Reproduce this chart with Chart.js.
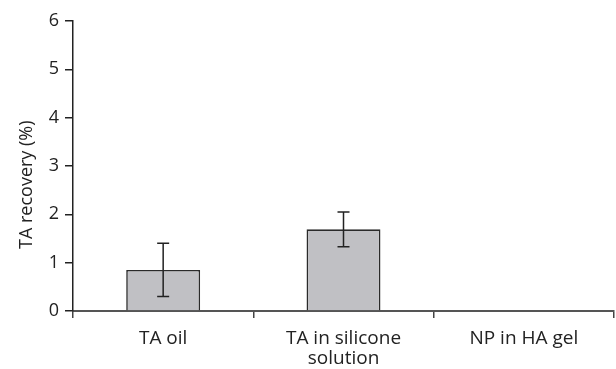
<!DOCTYPE html>
<html>
<head>
<meta charset="utf-8">
<script src="https://cdn.jsdelivr.net/npm/chart.js@4/dist/chart.umd.min.js"></script>
<style>
  html, body { margin: 0; padding: 0; background: #fff; }
  #wrap { width: 616px; height: 369px; }
</style>
</head>
<body>
<div id="wrap"><canvas id="rel1"></canvas></div>
<script>
var categories = [['TA oil'], ['TA in silicone', 'solution'], ['NP in HA gel']];
var recovery = [0.85, 1.69, 0];
var recovery_err = [0.55, 0.36, 0];
var y_ticks = [0, 1, 2, 3, 4, 5, 6];

var errorBars = {
	id: 'errorBars',
	afterDatasetsDraw: function(chart) {
		var ctx = chart.ctx;
		var meta = chart.getDatasetMeta(0);
		var y = chart.scales.y;
		ctx.save();
		ctx.strokeStyle = '#222';
		ctx.lineWidth = 1.5;
		meta.data.forEach(function(bar, i) {
			if (!recovery_err[i]) return;
			var top = y.getPixelForValue(recovery[i] + recovery_err[i]);
			var bot = y.getPixelForValue(recovery[i] - recovery_err[i]);
			ctx.beginPath();
			ctx.moveTo(bar.x, top); ctx.lineTo(bar.x, bot);
			ctx.moveTo(bar.x - 6, top); ctx.lineTo(bar.x + 6, top);
			ctx.moveTo(bar.x - 6, bot); ctx.lineTo(bar.x + 6, bot);
			ctx.stroke();
		});
		ctx.restore();
	}
};

var rel1 = new Chart(document.getElementById("rel1"), {
	type:'bar',
	data:{
		labels:categories,
		datasets:[{
			label:'TA recovery',
			data:recovery,
			backgroundColor:'#c0c0c4',
			borderColor:'#2a2a2a',
			borderWidth:1.6,
			barPercentage:0.41,
			categoryPercentage:1
		}]
	},
	options:{
		responsive:true,
		maintainAspectRatio:false,
		animation:false,
		layout:{padding:{top:21, right:2, left:16, bottom:0}},
		plugins:{legend:{display:false}, tooltip:{enabled:false}},
		scales:{
			x:{
				afterFit:function(scale){ scale.height = 58; },
				grid:{drawOnChartArea:false, drawTicks:true, tickLength:7, color:'#444', lineWidth:1.5},
				border:{color:'#555', width:2},
				ticks:{color:'#222', font:{family:'Open Sans', size:19, lineHeight:1.08}, padding:10, maxRotation:0}
			},
			y:{
				min:0, max:6,
				afterBuildTicks:function(scale){ scale.ticks = y_ticks.map(function(v){ return {value:v}; }); },
				afterFit:function(scale){ scale.width = 57; },
				grid:{drawOnChartArea:false, drawTicks:true, tickLength:8, color:'#222', lineWidth:1.5},
				border:{color:'#222', width:1.5},
				ticks:{color:'#222', font:{family:'Open Sans', size:18}, padding:6},
				title:{display:true, text:'TA recovery (%)        ', color:'#222', font:{family:'Open Sans', size:18}, padding:{top:0, bottom:5}}
			}
		}
	},
	plugins:[errorBars]
});
</script>
</body>
</html>
